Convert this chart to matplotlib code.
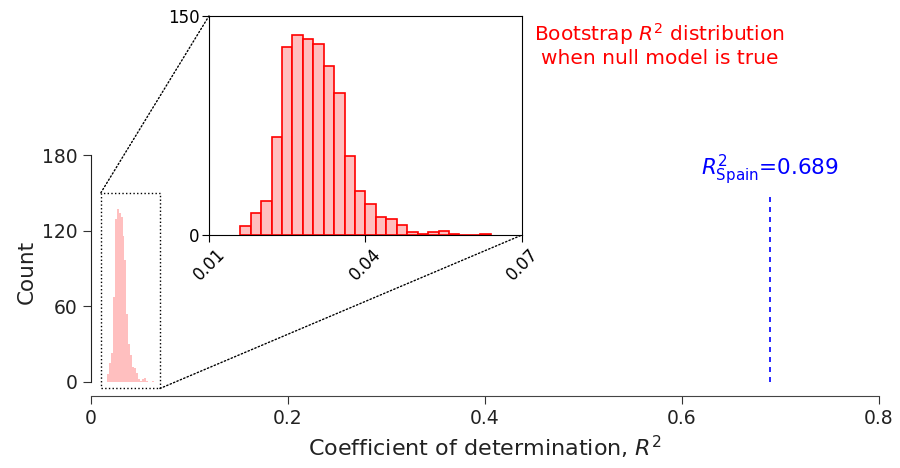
import numpy as np
import matplotlib
matplotlib.use('Agg')
import matplotlib.pyplot as plt
from matplotlib.patches import Rectangle, ConnectionPatch

# Bootstrap R^2 histogram (bin width 0.002, starting at 0.016)
bin_left = [0.016, 0.018, 0.020, 0.022, 0.024, 0.026, 0.028, 0.030,
            0.032, 0.034, 0.036, 0.038, 0.040, 0.042, 0.044, 0.046,
            0.048, 0.050, 0.052, 0.054, 0.056, 0.058, 0.060, 0.062]
counts = [6, 15, 23, 67, 129, 137, 134, 131, 116, 97, 54, 30,
          21, 12, 11, 7, 2, 1, 2, 3, 1, 0, 0, 1]
bin_width = 0.002
r2_spain = 0.689

main_xticks = [0, 0.2, 0.4, 0.6, 0.8]
main_yticks = [0, 60, 120, 180]
inset_xticks = [0.01, 0.04, 0.07]
inset_yticks = [0, 150]

pink = '#ffbfbf'
edges = np.append(bin_left, bin_left[-1] + bin_width)

fig = plt.figure(figsize=(9, 4.68), dpi=100)
ax = fig.add_axes([0.1011, 0.1699, 0.8756, 0.4989])

ax.hist(bin_left, bins=edges, weights=counts, color=pink)
ax.vlines(r2_spain, 0, 150, colors='blue', linestyles=(0, (3, 3)), lw=1.2)
ax.text(r2_spain, 155, r'$R^2_{\mathrm{Spain}}$=0.689', color='blue',
        ha='center', va='bottom', fontsize=15.5)

ax.set_xlim(0, 0.8)
ax.set_ylim(-5.3, 180)
ax.set_xticks(main_xticks)
ax.set_xticklabels(['0', '0.2', '0.4', '0.6', '0.8'])
ax.set_yticks(main_yticks)
ax.tick_params(labelsize=13.5, length=6, color='#333333', labelcolor='#222222')
for s in ['top', 'right']:
    ax.spines[s].set_visible(False)
ax.spines['bottom'].set_position(('outward', 5.3))
ax.spines['bottom'].set_bounds(0, 0.8)
ax.spines['left'].set_bounds(0, 180)
ax.spines['bottom'].set_color('#444444')
ax.spines['left'].set_color('#222222')
ax.set_xlabel(r'Coefficient of determination, $R^2$', fontsize=16, color='#222222')
ax.set_ylabel('Count', fontsize=15.5, color='#222222')

# zoom box on main axes
rect = Rectangle((0.01, -5.3), 0.06, 155.3, fill=False, ls=':', lw=1.0,
                 ec='black', clip_on=False)
ax.add_patch(rect)

# inset
axin = fig.add_axes([0.2322, 0.4979, 0.3478, 0.468])
axin.hist(bin_left, bins=edges, weights=counts, facecolor=pink,
          edgecolor='red', lw=1.2)
axin.set_xlim(0.01, 0.07)
axin.set_ylim(0, 150)
axin.set_xticks(inset_xticks)
axin.set_xticklabels(['0.01', '0.04', '0.07'], rotation=45)
axin.set_yticks(inset_yticks)
axin.tick_params(labelsize=12, length=5, pad=2)

for (xa, ya), (xb, yb) in [((0.01, 150), (0.01, 150)), ((0.07, -5.3), (0.07, 0))]:
    con = ConnectionPatch(xyA=(xa, ya), coordsA=ax.transData,
                          xyB=(xb, yb), coordsB=axin.transData,
                          ls=':', lw=1.0, color='black')
    fig.add_artist(con)

fig.text(0.733, 0.905, 'Bootstrap $R^2$ distribution\nwhen null model is true',
         color='red', ha='center', va='center', fontsize=14.5, linespacing=1.1)

fig.savefig('out.png', dpi=100)
